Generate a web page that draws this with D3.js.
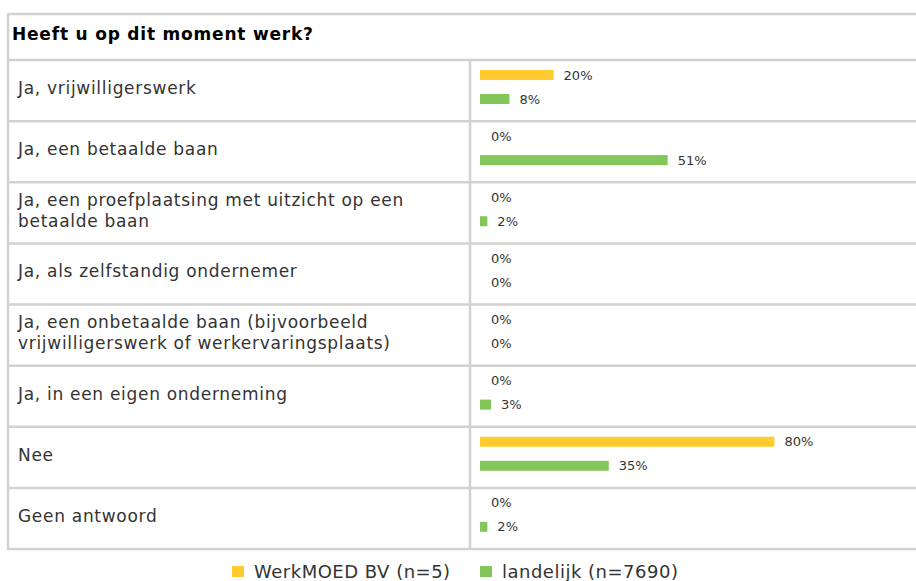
<!DOCTYPE html>
<html>
<head>
<meta charset="utf-8">
<script src="https://cdn.jsdelivr.net/npm/d3@7"></script>
<style>
  body { margin: 0; background: #fff; }
  svg text { font-family: "DejaVu Sans", Verdana, sans-serif; }
</style>
</head>
<body>
<div id="chart"></div>
<script>
// data
var title = "Heeft u op dit moment werk?";
var categories = [
  "Ja, vrijwilligerswerk",
  "Ja, een betaalde baan",
  "Ja, een proefplaatsing met uitzicht op een betaalde baan",
  "Ja, als zelfstandig ondernemer",
  "Ja, een onbetaalde baan (bijvoorbeeld vrijwilligerswerk of werkervaringsplaats)",
  "Ja, in een eigen onderneming",
  "Nee",
  "Geen antwoord"
];
var seriesNames = ["WerkMOED BV (n=5)", "landelijk (n=7690)"];
var werkmoed = [20, 0, 0, 0, 0, 0, 80, 0];
var landelijk = [8, 51, 2, 0, 0, 3, 35, 2];
var colors = ["#ffcb2f", "#83c65a"];

var W = 916, H = 581;
var leftX = 8, rightX = 922, topY = 14, headerBottom = 60, bottomY = 549, divX = 470;
var gridColor = "#d2d2d2";

var svg = d3.select("#chart").append("svg")
  .attr("width", W).attr("height", H);

var y = d3.scaleBand().domain(categories).range([headerBottom, bottomY]);
var yInner = d3.scaleBand().domain(seriesNames).range([10, 44]).paddingInner(0.583);
var x = d3.scaleLinear().domain([0, 100]).range([480, 848]);

// header
svg.append("text")
  .attr("x", 12).attr("y", 34).attr("dy", "0.35em")
  .attr("font-size", 17).attr("font-weight", "bold").attr("fill", "#000")
  .attr("letter-spacing", 0.8)
  .text(title);

// grid lines
var hLines = [topY, headerBottom].concat(categories.map(function(c) { return y(c) + y.bandwidth(); }));
svg.selectAll("line.h").data(hLines).enter().append("line")
  .attr("x1", leftX).attr("x2", rightX)
  .attr("y1", d => d).attr("y2", d => d)
  .attr("stroke", gridColor).attr("stroke-width", 2.5);
svg.append("line").attr("x1", leftX).attr("x2", leftX).attr("y1", topY - 1).attr("y2", bottomY + 1)
  .attr("stroke", gridColor).attr("stroke-width", 2.5);
svg.append("line").attr("x1", divX).attr("x2", divX).attr("y1", headerBottom).attr("y2", bottomY + 1)
  .attr("stroke", gridColor).attr("stroke-width", 2.5);

// row labels, wrapped
var rows = svg.selectAll("g.row").data(categories).enter().append("g")
  .attr("class", "row")
  .attr("transform", d => "translate(0," + y(d) + ")");

rows.each(function(d) {
  var g = d3.select(this);
  var t = g.append("text").attr("x", 18).attr("font-size", 17).attr("fill", "#333")
    .attr("letter-spacing", 0.7);
  var words = d.split(" "), lines = [], line = [];
  var probe = g.append("text").attr("font-size", 17).attr("letter-spacing", 0.7);
  words.forEach(function(w) {
    line.push(w);
    probe.text(line.join(" "));
    if (probe.node().getComputedTextLength() > 435 && line.length > 1) {
      line.pop();
      lines.push(line.join(" "));
      line = [w];
    }
  });
  lines.push(line.join(" "));
  probe.remove();
  var lh = 21;
  var y0 = y.bandwidth() / 2 - 2.5 - (lines.length - 1) * lh / 2;
  lines.forEach(function(l, i) {
    t.append("tspan").attr("x", 18).attr("y", y0 + i * lh).attr("dy", "0.35em").text(l);
  });
});

// bars
var series = [werkmoed, landelijk];
series.forEach(function(vals, si) {
  var name = seriesNames[si];
  var data = categories.map(function(c, i) { return { c: c, v: vals[i] }; });
  svg.selectAll("rect.s" + si).data(data.filter(d => d.v > 0)).enter().append("rect")
    .attr("x", x(0))
    .attr("y", d => y(d.c) + yInner(name))
    .attr("width", d => x(d.v) - x(0))
    .attr("height", yInner.bandwidth())
    .attr("fill", colors[si]);
  svg.selectAll("text.s" + si).data(data).enter().append("text")
    .attr("x", d => d.v > 0 ? x(d.v) + 10 : x(0) + 11)
    .attr("y", d => y(d.c) + yInner(name) + yInner.bandwidth() / 2)
    .attr("dy", "0.35em")
    .attr("font-size", 13).attr("fill", "#333")
    .text(d => d.v + "%");
});

// legend
var legend = svg.append("g").attr("transform", "translate(0,572)");
var lx = [232, 480];
seriesNames.forEach(function(n, i) {
  legend.append("rect").attr("x", lx[i]).attr("y", -6).attr("width", 12).attr("height", 11).attr("fill", colors[i]);
  legend.append("text").attr("x", lx[i] + 22).attr("y", 0).attr("dy", "0.35em")
    .attr("font-size", 18).attr("letter-spacing", 0.5).attr("fill", "#333").text(n);
});
</script>
</body>
</html>
